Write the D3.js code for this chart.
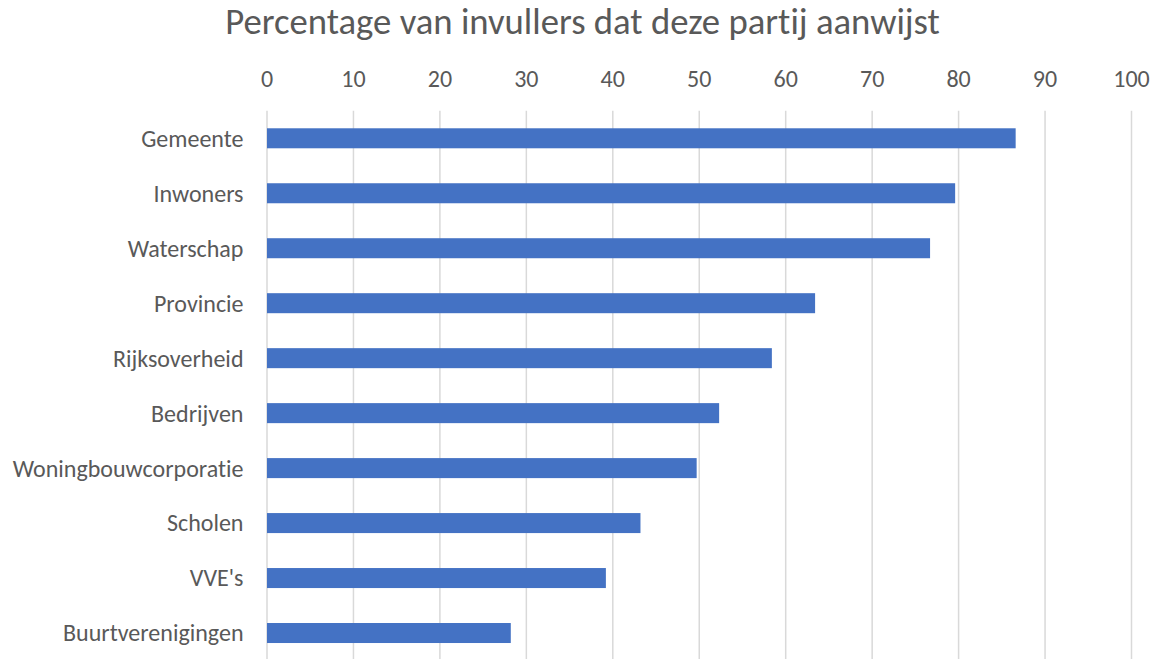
<!DOCTYPE html>
<html>
<head>
<meta charset="utf-8">
<script src="https://cdn.jsdelivr.net/npm/d3@7"></script>
<style>
  body { margin: 0; background: #fff; }
  text { font-family: Carlito, Calibri, Lato, sans-serif; fill: #595959; font-variant-ligatures: none; }
</style>
</head>
<body>
<div id="chart"></div>
<script>
// data
let categories = ["Gemeente", "Inwoners", "Waterschap", "Provincie", "Rijksoverheid",
                  "Bedrijven", "Woningbouwcorporatie", "Scholen", "VVE's", "Buurtverenigingen"];
let values = [86.6, 79.6, 76.7, 63.4, 58.4, 52.3, 49.7, 43.2, 39.2, 28.2];
let tickValues = [0, 10, 20, 30, 40, 50, 60, 70, 80, 90, 100];
let title = "Percentage van invullers dat deze partij aanwijst";

let width = 1153, height = 659;

let svg = d3.select("#chart").append("svg")
  .attr("width", width)
  .attr("height", height);

let x = d3.scaleLinear().domain([0, 100]).range([267, 1131.5]);
let y = d3.scaleBand().domain(categories).range([110.8, 660.5])
  .paddingInner(0.636).paddingOuter(0.318);

// shrink/grow a text so it spans a given width
function fitWidth(sel, target) {
  let w = sel.node().getComputedTextLength();
  let fs = parseFloat(sel.attr("font-size"));
  sel.attr("font-size", fs * target / w);
}

// gridlines
svg.append("g").selectAll("line")
  .data(tickValues)
  .enter()
  .append("line")
  .attr("x1", d => x(d))
  .attr("x2", d => x(d))
  .attr("y1", 110.8)
  .attr("y2", height)
  .style("stroke", "#d9d9d9")
  .style("stroke-width", 1.5);

// tick labels on top
let tickLabels = svg.append("g").selectAll("text")
  .data(tickValues)
  .enter()
  .append("text")
  .attr("x", d => x(d))
  .attr("y", 87)
  .attr("text-anchor", "middle")
  .attr("font-size", 20)
  .text(d => d);

// bars
svg.append("g").selectAll("rect")
  .data(values)
  .enter()
  .append("rect")
  .attr("x", x(0))
  .attr("y", (d, i) => y(categories[i]))
  .attr("width", d => x(d) - x(0))
  .attr("height", y.bandwidth())
  .style("fill", "#4472c4");

// category labels
let catLabels = svg.append("g").selectAll("text")
  .data(categories)
  .enter()
  .append("text")
  .attr("x", 243.5)
  .attr("y", d => y(d) + y.bandwidth() / 2)
  .attr("dy", "0.35em")
  .attr("text-anchor", "end")
  .attr("font-size", 20)
  .text(d => d);

// size labels from the longest one
let longest = catLabels.filter(d => d === "Woningbouwcorporatie");
fitWidth(longest, 231);
let fs = longest.attr("font-size");
catLabels.attr("font-size", fs);
tickLabels.attr("font-size", fs);

// title
let t = svg.append("text")
  .attr("x", 582.5)
  .attr("y", 34)
  .attr("text-anchor", "middle")
  .attr("font-size", 32)
  .text(title);
fitWidth(t, 715);
</script>
</body>
</html>
